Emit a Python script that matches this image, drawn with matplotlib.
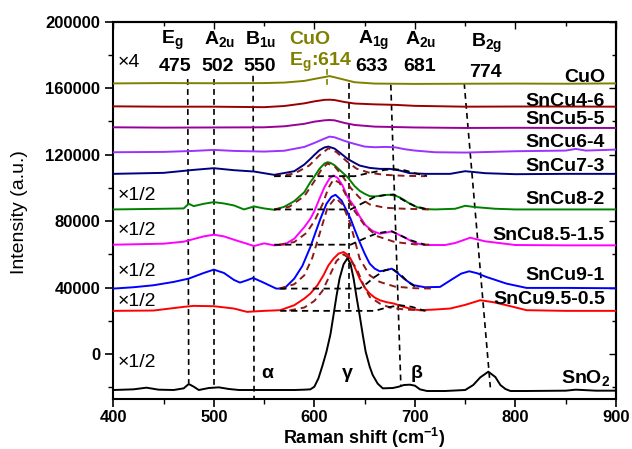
import matplotlib
matplotlib.use("Agg")
import matplotlib.pyplot as plt
from matplotlib.ticker import MultipleLocator

plt.rcParams['font.family'] = ['Liberation Sans', 'DejaVu Sans']
plt.rcParams['mathtext.fontset'] = 'custom'
plt.rcParams['mathtext.rm'] = 'Liberation Sans:bold'
plt.rcParams['mathtext.it'] = 'Liberation Sans:bold'
plt.rcParams['mathtext.bf'] = 'Liberation Sans:bold'

# ---------------- data ----------------
cuo_x = [400, 450, 500, 550, 570, 590, 600, 610, 615, 620, 630, 640, 660, 700, 750, 800, 850, 900]
cuo_y = [162800, 163000, 162900, 163000, 163300, 164300, 165500, 166600, 167200, 166500, 165000, 163500,
         162700, 162500, 162600, 162700, 162600, 162800]

s46_x = [400, 450, 500, 550, 570, 590, 600, 610, 615, 620, 630, 640, 660, 680, 700, 750, 800, 850, 900]
s46_y = [149000, 148800, 148800, 148500, 149200, 150800, 152000, 152900, 153000, 152800, 151600, 150700,
         150200, 149900, 149300, 148800, 148900, 148900, 148800]

s55_x = [400, 450, 500, 550, 570, 590, 600, 610, 615, 620, 630, 640, 660, 700, 750, 800, 850, 900]
s55_y = [136400, 136200, 136300, 136400, 137000, 138500, 139800, 140600, 140800, 140600, 139000, 137800,
         136800, 136300, 136000, 136100, 136000, 136000]

s64_x = [400, 450, 480, 500, 520, 550, 570, 590, 600, 610, 615, 620, 630, 640, 650, 660, 670, 680, 690,
         700, 720, 750, 800, 850, 860, 870, 900]
s64_y = [121400, 121600, 122200, 122800, 122200, 121800, 122300, 124600, 127000, 129600, 130800, 130400,
         128200, 126400, 124800, 124400, 124600, 124400, 123200, 122400, 121400, 121200, 122000, 122400,
         123400, 122400, 123000]

s73_x = [400, 450, 480, 500, 520, 540, 560, 580, 590, 596, 600, 605, 610, 614, 620, 625, 633, 640, 645,
         655, 665, 675, 685, 695, 710, 735, 750, 770, 800, 850, 900]
s73_y = [108400, 109000, 110800, 111800, 110600, 109800, 107800, 110000, 114000, 117400, 119800, 122600,
         124300, 124800, 123600, 121300, 117400, 115000, 113400, 112000, 111400, 111400, 110400, 108800,
         108400, 108400, 110000, 108800, 108200, 108400, 108400]

s82_x = [400, 450, 470, 475, 480, 490, 500, 510, 520, 530, 540, 550, 560, 570, 580, 590, 596, 600, 605,
         610, 613, 616, 620, 625, 633, 640, 645, 650, 655, 660, 665, 670, 675, 680, 685, 690, 695, 702,
         710, 720, 740, 750, 760, 780, 800, 850, 900]
s82_y = [87000, 87400, 87600, 90400, 89000, 90400, 91400, 90600, 89400, 87000, 88800, 87600, 86800, 88600,
         92000, 97400, 103400, 106800, 111400, 114600, 115400, 115000, 113600, 110800, 106400, 101000,
         98200, 96400, 95000, 94800, 95200, 95700, 95800, 95400, 94200, 92400, 90400, 88400, 87200, 87000,
         87400, 89200, 88400, 87400, 87000, 87000, 87000]

s8515_x = [400, 450, 470, 475, 490, 500, 510, 520, 540, 550, 560, 570, 580, 590, 596, 600, 605, 610, 615,
           619, 623, 628, 633, 639, 645, 651, 658, 665, 671, 677, 684, 692, 700, 710, 730, 740, 755, 770,
           800, 850, 900]
s8515_y = [65800, 66400, 67600, 68400, 70800, 71800, 70800, 68800, 65000, 66600, 65400, 65800, 69400, 76400,
           81400, 86000, 93400, 100400, 105600, 107400, 106000, 101400, 94400, 89400, 82800, 77400, 74000,
           72400, 73000, 73800, 71800, 69400, 66800, 65600, 65600, 66800, 70000, 67800, 65600, 65400, 65400]

s91_x = [400, 420, 440, 460, 475, 490, 500, 510, 520, 526, 533, 539, 548, 562, 570, 580, 588, 596, 601,
         606, 612, 617, 621, 627, 632, 636, 640, 645, 650, 655, 660, 665, 671, 677, 683, 689, 694, 699,
         710, 725, 738, 746, 754, 762, 771, 781, 791, 811, 850, 900]
s91_y = [39400, 40200, 41400, 43400, 45400, 48800, 50800, 48800, 44600, 43000, 44400, 45800, 43400, 39400,
         39400, 45400, 53000, 64400, 73000, 81400, 90400, 94600, 95800, 92400, 86400, 81400, 75000, 67400,
         60400, 54400, 51400, 49800, 50400, 51400, 48600, 45400, 43200, 41400, 40200, 40400, 45400, 48400,
         49800, 48600, 46400, 44400, 42400, 39800, 39800, 39600]

s9505_x = [400, 440, 470, 480, 500, 520, 533, 550, 566, 580, 590, 596, 603, 609, 614, 619, 624, 629, 633,
           636, 640, 645, 650, 655, 660, 665, 672, 679, 689, 697, 705, 720, 735, 750, 765, 778, 791, 811,
           850, 900]
s9505_y = [26000, 26200, 28400, 29000, 28800, 27400, 25400, 26000, 26400, 29400, 33400, 36400, 41400, 47400,
           53400, 57400, 60400, 61400, 59800, 57400, 52400, 45400, 40000, 36400, 34000, 32400, 31200, 30400,
           28400, 27000, 26400, 26800, 27400, 29600, 32400, 31200, 29400, 26400, 26000, 26000]

sno2_x = [400, 420, 433, 445, 460, 470, 475, 480, 485, 495, 505, 515, 525, 540, 560, 580, 590, 596, 600,
          604, 608, 612, 616, 619, 622, 625, 629, 633, 636, 639, 642, 645, 648, 651, 655, 658, 663, 668,
          678, 684, 689, 695, 700, 705, 712, 730, 750, 758, 765, 773, 780, 785, 790, 795, 810, 850, 860,
          880, 900]
sno2_y = [-21600, -21200, -20200, -21400, -21600, -20600, -18000, -19600, -21600, -20400, -20000, -21000,
          -21600, -21600, -21600, -21600, -21400, -21200, -19600, -14600, -7000, 1400, 12000, 23400, 35000,
          45400, 54000, 57800, 54000, 45400, 34000, 23400, 12000, 1400, -7600, -12600, -17800, -20600,
          -20400, -19600, -18600, -18400, -19000, -21200, -22200, -22200, -21600, -18600, -14000, -10600,
          -13800, -18600, -21000, -22200, -22200, -22000, -21400, -22000, -22000]

# fitted components: main (dark red dashed) and second (black dashed)
f73_main_x = [560, 580, 595, 605, 614, 622, 632, 642, 655, 670, 690, 710]
f73_main_y = [107000, 108500, 113500, 119500, 123800, 121500, 116000, 111500, 109000, 107800, 107200, 107000]
f73_sec_x = [560, 640, 655, 670, 680, 690, 700, 712]
f73_sec_y = [107000, 107000, 109000, 110800, 111200, 110500, 108800, 107000]

f82_main_x = [560, 575, 590, 600, 607, 613, 620, 628, 636, 645, 655, 670, 690, 715]
f82_main_y = [87000, 88600, 95000, 104000, 111000, 114600, 113000, 107000, 100000, 94000, 90000, 88000, 87400, 87000]
f82_sec_x = [560, 636, 648, 660, 670, 679, 689, 700, 713]
f82_sec_y = [87000, 87000, 90800, 94600, 95600, 96000, 92400, 89000, 87000]

f8515_main_x = [565, 580, 592, 600, 608, 614, 619, 625, 632, 640, 650, 662, 680, 700, 715]
f8515_main_y = [65800, 67400, 72800, 80000, 90000, 100000, 105000, 103000, 95000, 86000, 77400, 71000, 67400, 66000, 65800]
f8515_sec_x = [560, 636, 650, 662, 670, 677, 685, 695, 710]
f8515_sec_y = [65800, 65800, 69600, 72600, 73400, 73800, 71600, 68600, 65800]

f91_main_x = [565, 580, 590, 598, 606, 613, 621, 628, 636, 645, 655, 665, 680, 700, 720]
f91_main_y = [39400, 42000, 47400, 58000, 74000, 88000, 94000, 90000, 78000, 57400, 47400, 43400, 40600, 39600, 39400]
f91_sec_x = [566, 645, 652, 660, 670, 677, 685, 693, 703]
f91_sec_y = [39400, 39400, 42400, 46400, 50400, 51400, 48400, 43400, 39400]

f9505_main_x = [575, 590, 600, 608, 615, 622, 629, 635, 642, 649, 655, 665, 675, 690, 712]
f9505_main_y = [26200, 28000, 32000, 38000, 47000, 56000, 60000, 57400, 51400, 41400, 34400, 30400, 28000, 26800, 26200]
f9505_sec_x = [566, 660, 672, 685, 697, 710]
f9505_sec_y = [26000, 26000, 28000, 29400, 28400, 26000]

# vertical guide lines: (x_top, y_top, x_bottom, y_bottom)
guide_x_top = [474, 500, 539, 634, 676, 749]
guide_y_top = [165400, 165400, 167400, 163000, 162000, 163000]
guide_x_bot = [475, 500, 540, 634, 686, 775]
guide_y_bot = [-17600, -20600, -27000, 27000, -19000, -20000]

sample_names = ['CuO', 'SnCu4-6', 'SnCu5-5', 'SnCu6-4', 'SnCu7-3', 'SnCu8-2',
                'SnCu8.5-1.5', 'SnCu9-1', 'SnCu9.5-0.5']
sample_label_y = [163400, 149000, 138400, 124800, 110000, 90000, 68400, 44400, 30000]
scale_texts = ['×4', '×1/2', '×1/2', '×1/2', '×1/2', '×1/2']
scale_y = [172400, 92400, 71400, 47000, 29000, -8000]

mode_names = [r'E$_\mathregular{g}$', r'A$_\mathregular{2u}$', r'B$_\mathregular{1u}$',
              r'A$_\mathregular{1g}$', r'A$_\mathregular{2u}$', r'B$_\mathregular{2g}$']
mode_values = ['475', '502', '550', '633', '681', '774']
mode_x = [447, 490, 531, 643, 690, 756]
mode_name_y = [186400, 186400, 186400, 186400, 186400, 184400]
mode_val_y = [170000, 170000, 170000, 170400, 170400, 166400]

# ---------------- figure ----------------
fig = plt.figure(figsize=(6.32, 4.49), dpi=100)
ax = fig.add_axes([0.1793, 0.1114, 0.7954, 0.8406])

colors = ['#808000', '#990000', '#990099', '#9933ff', '#000080', '#008000', '#ff00ff', '#0000ff', '#ff0000', '#000000']
series = [(cuo_x, cuo_y), (s46_x, s46_y), (s55_x, s55_y), (s64_x, s64_y), (s73_x, s73_y),
          (s82_x, s82_y), (s8515_x, s8515_y), (s91_x, s91_y), (s9505_x, s9505_y), (sno2_x, sno2_y)]

dash = (0, (3.5, 2.5))
for xt, yt, xb, yb in zip(guide_x_top, guide_y_top, guide_x_bot, guide_y_bot):
    ax.plot([xt, xb], [yt, yb], color='black', lw=1.2, linestyle=dash, zorder=1)
ax.plot([613, 613], [171400, 160400], color='#808000', lw=1.2, linestyle=dash, zorder=1)

for (xs, ys), c in zip(series, colors):
    ax.plot(xs, ys, color=c, lw=1.4, zorder=3)

fits_main = [(f73_main_x, f73_main_y), (f82_main_x, f82_main_y), (f8515_main_x, f8515_main_y),
             (f91_main_x, f91_main_y), (f9505_main_x, f9505_main_y)]
fits_sec = [(f73_sec_x, f73_sec_y), (f82_sec_x, f82_sec_y), (f8515_sec_x, f8515_sec_y),
            (f91_sec_x, f91_sec_y), (f9505_sec_x, f9505_sec_y)]
for xs, ys in fits_main:
    ax.plot(xs, ys, color='#8b1a1a', lw=1.4, linestyle=dash, zorder=4)
for xs, ys in fits_sec:
    ax.plot(xs, ys, color='black', lw=1.3, linestyle=dash, zorder=4)

# sample labels
for name, y in zip(sample_names, sample_label_y):
    ax.text(889, y, name, ha='right', va='baseline', fontsize=14, fontweight='bold')
ax.text(845, -17600, r'SnO$_\mathregular{2}$', ha='left', va='baseline', fontsize=14, fontweight='bold')

for t, y in zip(scale_texts, scale_y):
    ax.text(404, y, t, ha='left', va='baseline', fontsize=14)

for n, v, x, yn, yv in zip(mode_names, mode_values, mode_x, mode_name_y, mode_val_y):
    ax.text(x, yn, n, ha='left', va='baseline', fontsize=14, fontweight='bold')
    ax.text(x - 2, yv, v, ha='left', va='baseline', fontsize=14, fontweight='bold')
ax.text(575, 186400, 'CuO', ha='left', va='baseline', fontsize=14, fontweight='bold', color='#808000')
ax.text(575, 173400, r'E$_\mathregular{g}$:614', ha='left', va='baseline', fontsize=14,
        fontweight='bold', color='#808000')

ax.text(547, -14600, 'α', ha='left', va='baseline', fontsize=14, fontweight='bold')
ax.text(627, -14600, 'γ', ha='left', va='baseline', fontsize=14, fontweight='bold')
ax.text(696, -14600, 'β', ha='left', va='baseline', fontsize=14, fontweight='bold')

ax.set_xlim(400, 900)
ax.set_ylim(-27000, 200000)
ax.xaxis.set_major_locator(MultipleLocator(100))
ax.xaxis.set_minor_locator(MultipleLocator(50))
ax.yaxis.set_major_locator(MultipleLocator(40000))
ax.yaxis.set_minor_locator(MultipleLocator(20000))
ax.tick_params(which='major', direction='out', length=6, width=1.2, labelsize=12)
ax.tick_params(axis='x', which='major', pad=2)
ax.tick_params(which='minor', direction='out', length=3.5, width=1.0)
for lab in ax.get_xticklabels() + ax.get_yticklabels():
    lab.set_fontweight('bold')
for sp in ax.spines.values():
    sp.set_linewidth(1.5)

secx = ax.secondary_xaxis('top')
secx.xaxis.set_major_locator(MultipleLocator(100))
secx.xaxis.set_minor_locator(MultipleLocator(50))
secx.tick_params(which='major', direction='in', length=5, width=1.0, labeltop=False)
secx.tick_params(which='minor', direction='in', length=3, width=1.0)
secy = ax.secondary_yaxis('right')
secy.yaxis.set_major_locator(MultipleLocator(40000))
secy.yaxis.set_minor_locator(MultipleLocator(20000))
secy.tick_params(which='major', direction='in', length=5, width=1.0, labelright=False)
secy.tick_params(which='minor', direction='in', length=3, width=1.0)
secx.spines['top'].set_linewidth(1.5)
secy.spines['right'].set_linewidth(1.5)

fig.text(364 / 632, 1 - 437.5 / 449, r'Raman shift (cm$^\mathregular{-1}$)', ha='center', va='center',
         fontsize=13, fontweight='bold')
fig.text(20 / 632, 1 - 212 / 449, 'Intensity (a.u.)', ha='center', va='center', rotation=90,
         fontsize=14)

fig.savefig('out.png', dpi=100)
